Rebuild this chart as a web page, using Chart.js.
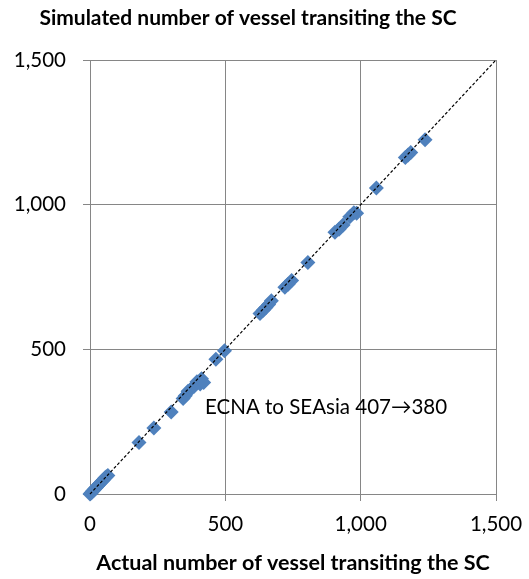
<!DOCTYPE html>
<html>
<head>
<meta charset="utf-8">
<script src="https://cdn.jsdelivr.net/npm/chart.js@4/dist/chart.umd.min.js"></script>
<style>
html,body{margin:0;padding:0;background:#fff;}
#wrap{width:529px;height:579px;}
</style>
</head>
<body>
<div id="wrap"><canvas id="c" width="529" height="579"></canvas></div>
<script>
// Data
const actualCounts = [0,3,6,10,14,18,22,26,30,35,40,45,50,55,60,66,
  181,236,300,344,352,362,375,385,395,407,412,420,465,497,
  628,640,650,660,670,720,732,745,805,905,920,935,960,975,985,1058,1165,1175,1185,1238];
const simulatedCounts = [0,3,5,10,13,18,21,26,29,35,39,45,49,55,60,64,
  178,228,283,330,340,355,365,372,388,380,398,385,466,495,
  624,635,645,655,668,715,725,738,800,905,915,930,958,972,970,1058,1163,1172,1180,1224];
const identityLine = [0, 1500];
const tickValues = [0, 500, 1000, 1500];
const titleText = 'Simulated number of vessel transiting the SC';
const xTitleText = 'Actual number of vessel transiting the SC';
const annotationText = 'ECNA to SEAsia 407\u2192380';
const annotationPos = [425, 301];

const FONT = 'Lato, Calibri, Carlito, sans-serif';
const GRID = '#868686';

const annotationPlugin = {
  id: 'annot',
  afterDatasetsDraw(chart) {
    const {ctx, scales} = chart;
    ctx.save();
    ctx.font = '20.5px ' + FONT;
    ctx.fillStyle = '#000';
    ctx.textAlign = 'left';
    ctx.textBaseline = 'middle';
    ctx.fillText(annotationText, scales.x.getPixelForValue(annotationPos[0]), scales.y.getPixelForValue(annotationPos[1]));
    ctx.restore();
  }
};

new Chart(document.getElementById('c'), {
  type: 'scatter',
  data: {
    datasets: [
      {
        type: 'line',
        data: identityLine.map(v => ({x: v, y: v})),
        borderColor: '#000',
        borderWidth: 1.2,
        borderDash: [3, 2],
        pointRadius: 0,
        fill: false,
        clip: false,
        order: 0
      },
      {
        data: actualCounts.map((v, i) => ({x: v, y: simulatedCounts[i]})),
        pointStyle: 'rectRot',
        pointRadius: 7.5,
        backgroundColor: '#4F81BD',
        borderColor: '#4F81BD',
        borderWidth: 0,
        clip: false,
        order: 1
      }
    ]
  },
  plugins: [annotationPlugin],
  options: {
    responsive: false,
    animation: false,
    layout: {padding: {left: 0, right: 33, top: 0, bottom: 0}},
    plugins: {
      legend: {display: false},
      tooltip: {enabled: false},
      title: {
        display: true,
        text: titleText,
        color: '#000',
        font: {family: FONT, size: 21, weight: 'bold'},
        padding: {top: 5.4, bottom: 29.4}
      }
    },
    scales: {
      x: {
        type: 'linear',
        min: 0, max: 1500,
        afterBuildTicks: s => { s.ticks = tickValues.map(v => ({value: v})); },
        afterFit: s => { s.height = 85; s.paddingLeft = 0; s.paddingRight = 0; },
        grid: {color: GRID, lineWidth: 1, tickLength: 7, tickColor: GRID},
        border: {color: GRID, width: 1},
        ticks: {color: '#000', font: {family: FONT, size: 20.5}, padding: 10.7, maxRotation: 0,
          callback: v => v.toLocaleString('en-US')},
        title: {display: true, text: xTitleText, color: '#000',
          font: {family: FONT, size: 21.5, weight: 'bold'}, padding: {top: 0, bottom: 3.2}}
      },
      y: {
        type: 'linear',
        min: 0, max: 1500,
        afterBuildTicks: s => { s.ticks = tickValues.map(v => ({value: v})); },
        afterFit: s => { s.width = 90; s.paddingTop = 0; s.paddingBottom = 0; },
        grid: {color: GRID, lineWidth: 1, tickLength: 7, tickColor: GRID},
        border: {color: GRID, width: 1},
        ticks: {color: '#000', font: {family: FONT, size: 20.5}, padding: 17,
          callback: v => v.toLocaleString('en-US')}
      }
    }
  }
});
</script>
</body>
</html>
